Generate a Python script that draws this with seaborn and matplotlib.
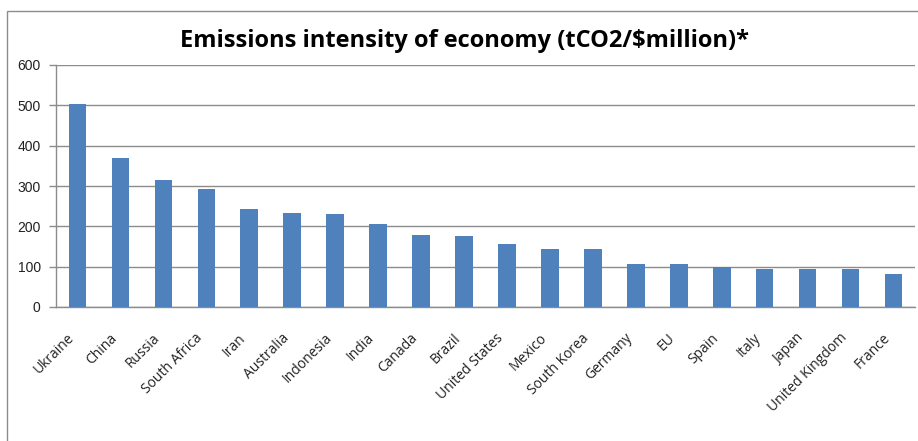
import matplotlib
matplotlib.use("Agg")
import matplotlib.pyplot as plt
import matplotlib.transforms as mtrans
import seaborn as sns
import pandas as pd
from matplotlib.patches import Rectangle

# ── Data ─────────────────────────────────────────────────────────────────────
countries = ["Ukraine", "China", "Russia", "South Africa", "Iran", "Australia",
             "Indonesia", "India", "Canada", "Brazil", "United States", "Mexico",
             "South Korea", "Germany", "EU", "Spain", "Italy", "Japan",
             "United Kingdom", "France"]
intensity = [503, 370, 316, 292, 242, 234, 230, 207, 178, 175,
             155, 145, 145, 106, 106, 100, 95, 95, 93, 81]
y_ticks = [0, 100, 200, 300, 400, 500, 600]

df = pd.DataFrame({"country": countries, "intensity": intensity})

# ── Style ────────────────────────────────────────────────────────────────────
sns.set_theme(style="white")
plt.rcParams["font.family"] = ["Open Sans", "DejaVu Sans"]

BAR = "#4F81BD"
GRID = "#8c8c8c"

fig = plt.figure(figsize=(9.18, 4.41), dpi=100)
fig.patch.set_facecolor("white")
ax = fig.add_axes([56 / 918, 1 - 307 / 441, (915 - 56) / 918, (307 - 65) / 441])

sns.barplot(data=df, x="country", y="intensity", color=BAR, width=0.41,
            saturation=1, linewidth=0, ax=ax, zorder=3)

# ── Axes ─────────────────────────────────────────────────────────────────────
ax.set_ylim(0, 600)
ax.set_xlim(-0.5, len(countries) - 0.5)
ax.set_yticks(y_ticks)
ax.set_yticklabels([str(v) for v in y_ticks], fontsize=10, color="#222",
                   family=["Liberation Sans", "DejaVu Sans"])
ax.yaxis.grid(True, color=GRID, lw=1)
ax.set_axisbelow(True)
ax.set_xlabel("")
ax.set_ylabel("")

ax.set_xticks(range(len(countries)))
ax.set_xticklabels(countries, rotation=45, ha="right", rotation_mode="anchor",
                   fontsize=10, color="#222")
ax.tick_params(axis="x", which="major", length=0, pad=17)
shift = mtrans.ScaledTranslation(-11 / 100, 0, fig.dpi_scale_trans)
for lbl in ax.get_xticklabels():
    lbl.set_transform(lbl.get_transform() + shift)
ax.set_xticks([i - 0.5 for i in range(len(countries) + 1)], minor=True)
ax.tick_params(axis="x", which="minor", length=5, color=GRID, width=1)
ax.tick_params(axis="y", length=5, color=GRID, width=1, left=True, pad=6)

for side in ["top", "right"]:
    ax.spines[side].set_visible(False)
for side in ["left", "bottom"]:
    ax.spines[side].set_color(GRID)
    ax.spines[side].set_linewidth(1)

fig.text(465 / 918, 1 - 41 / 441, "Emissions intensity of economy (tCO2/$million)*",
         ha="center", va="center", fontsize=17, fontweight="bold", color="black")

# chart frame (Excel-style border, partly outside the image)
fig.patches.append(Rectangle((7 / 918, -0.1), 1.2, 1 - 11 / 441 + 0.1,
                             transform=fig.transFigure, fill=False,
                             edgecolor="#8c8c8c", lw=1))

plt.savefig("out.png", dpi=100, facecolor="white")
plt.close()
